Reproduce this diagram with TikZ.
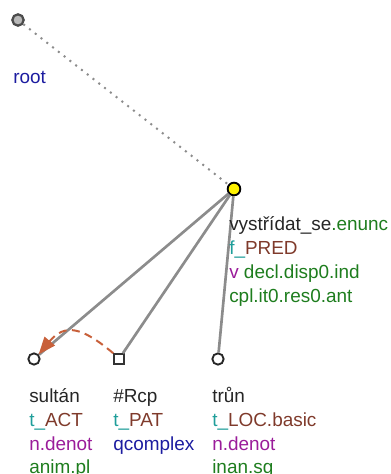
\documentclass[tikz,border=0pt]{standalone}
\usepackage{fontspec}
\setmainfont{Liberation Sans}
\usepackage{tikz}
\usetikzlibrary{
  arrows.meta,
  positioning,
  calc
}
\definecolor{funtor}{HTML}{1F9E9A}
\definecolor{fmarr}{HTML}{7F3A2B}
\definecolor{roxo}{HTML}{9A1C9A}
\definecolor{verde}{HTML}{1E7D1E}
\definecolor{azul}{HTML}{1C1CA0}
\definecolor{laranja}{HTML}{C8603A}
\definecolor{aresta}{HTML}{8C8C8C}

\begin{document}
\begin{tikzpicture}[
      x=0.75pt, y=-0.75pt,
      no/.style={circle, draw=black!85, fill=white, line width=1.4pt, minimum size=8.5pt, inner sep=0pt},
      raiz/.style={circle, draw=black!70, fill=gray!55, line width=1.7pt, minimum size=8.5pt, inner sep=0pt},
      pred/.style={circle, draw=black, fill=yellow, line width=1.4pt, minimum size=9.5pt, inner sep=0pt},
      quad/.style={rectangle, draw=black!80, fill=white, line width=1.2pt, minimum size=7.5pt, inner sep=0pt},
      rot/.style={anchor=base west, inner sep=0pt, font=\fontsize{14.2}{16}\selectfont, text=black!85},
      seta/.style={aresta, line width=2pt},
      pont/.style={aresta, line width=1.5pt, dash pattern=on 1.5pt off 4pt},
      coref/.style={laranja, line width=1.5pt, dash pattern=on 6pt off 4pt, -{Triangle[length=13pt, width=10pt]}}
  ]
      \useasboundingbox (0,0) rectangle (390,474);

      % Nos da arvore
      \node[raiz] (root) at (18,20) {};
      \node[pred] (vystr) at (234,189) {};
      \node[no] (sultan) at (34,359) {};
      \node[quad] (rcp) at (119,359) {};
      \node[no] (trun) at (218,359) {};

      % Arestas
      \draw[pont] (root) -- (vystr);
      \draw[seta] (vystr) -- (sultan);
      \draw[seta] (vystr) -- (rcp);
      \draw[seta] (vystr) -- (trun);
      \draw[coref] (rcp.north west) to[out=140, in=50, looseness=1.4] (sultan.north east);

      % Rotulos
      \node[rot, text=azul] (lroot) at (13,84) {root};

      \node[rot] (v1) at (229,230) {vystřídat\_se\textcolor{verde}{.enunc}};
      \node[rot] (v2) at (229,254) {\textcolor{funtor}{f\_}\textcolor{fmarr}{PRED}};
      \node[rot] (v3) at (229,278) {\textcolor{roxo}{v} \textcolor{verde}{decl.disp0.ind}};
      \node[rot, text=verde] (v4) at (229,302) {cpl.it0.res0.ant};

      \node[rot] (s1) at (29,402) {sultán};
      \node[rot] (s2) at (29,426) {\textcolor{funtor}{t\_}\textcolor{fmarr}{ACT}};
      \node[rot, text=roxo] (s3) at (29,450) {n.denot};
      \node[rot, text=verde] (s4) at (29,473) {anim.pl};

      \node[rot] (r1) at (113,402) {\#Rcp};
      \node[rot] (r2) at (113,426) {\textcolor{funtor}{t\_}\textcolor{fmarr}{PAT}};
      \node[rot, text=azul] (r3) at (113,450) {qcomplex};

      \node[rot] (t1) at (212,402) {trůn};
      \node[rot] (t2) at (212,426) {\textcolor{funtor}{t\_}\textcolor{fmarr}{LOC.basic}};
      \node[rot, text=roxo] (t3) at (212,450) {n.denot};
      \node[rot, text=verde] (t4) at (212,473) {inan.sg};
  \end{tikzpicture}
\end{document}
